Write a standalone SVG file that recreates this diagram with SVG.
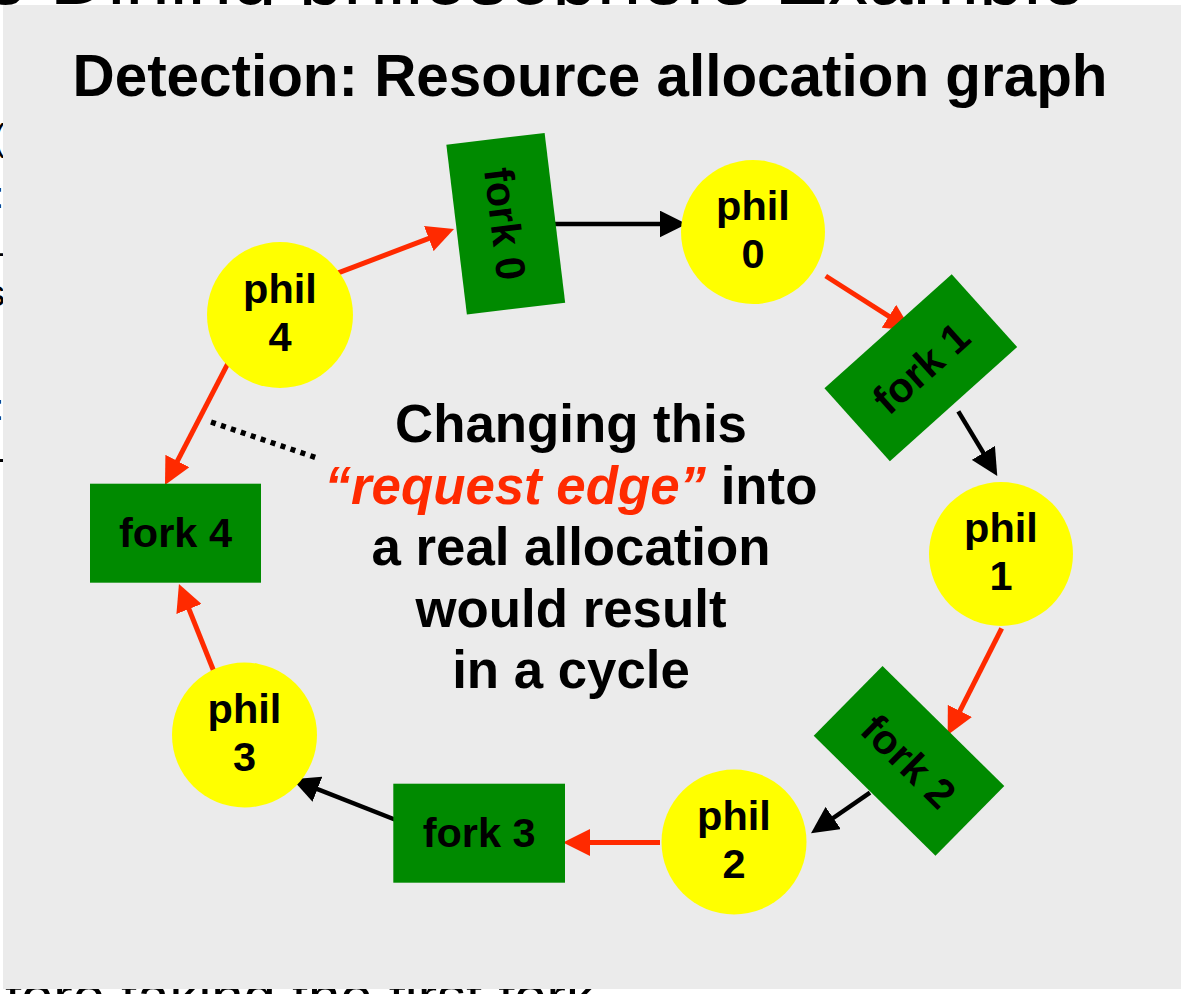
<svg xmlns="http://www.w3.org/2000/svg" width="1181" height="994" viewBox="0 0 1181 994">
  <style>
    .bg-text { font-family: "Liberation Sans", Arial, sans-serif; fill: #000; }
    .title { font-family: "Liberation Sans", Arial, sans-serif; font-weight: bold; font-size: 58.4px; fill: #000; }
    .note { font-family: "Liberation Sans", Arial, sans-serif; font-weight: bold; font-size: 52.8px; fill: #000; }
    .note .req { fill: #FF2A00; font-style: italic; }
    .phil circle { fill: #FFFF00; }
    .fork rect { fill: #008A00; }
    .label { font-family: "Liberation Sans", Arial, sans-serif; font-weight: bold; font-size: 41.5px; fill: #000; text-anchor: middle; }
    .req-edge { stroke: #FF2A00; stroke-width: 5; fill: none; marker-end: url(#head-red); }
    .alloc-edge { stroke: #000; stroke-width: 4.5; fill: none; marker-end: url(#head-black); }
    .pointer { stroke: #000; stroke-width: 5.5; stroke-dasharray: 5 5.5; fill: none; }
  </style>
  <defs>
    <marker id="head-red" viewBox="0 0 27 27" markerUnits="userSpaceOnUse" markerWidth="27" markerHeight="27" refX="15" refY="13.5" orient="auto">
      <path d="M0,0 L27,13.5 L0,27 Z" fill="#FF2A00"/>
    </marker>
    <marker id="head-black" viewBox="0 0 27 27" markerUnits="userSpaceOnUse" markerWidth="27" markerHeight="27" refX="15" refY="13.5" orient="auto">
      <path d="M0,0 L27,13.5 L0,27 Z" fill="#000"/>
    </marker>
  </defs>

  <!-- underlying slide, mostly covered by the panel -->
  <rect x="0" y="0" width="1181" height="994" fill="#FFFFFF"/>
  <g id="slide-behind" class="bg-text">
    <text x="-17" y="4" font-size="80">e Dining philosophers Example</text>
    <text x="5" y="1016" font-size="58">fore taking the first fork</text>
    <g font-size="36" text-anchor="end">
      <text x="5" y="150">(</text>
      <text x="4" y="208">:</text>
      <text x="5" y="256">1</text>
      <text x="5" y="306">s</text>
      <text x="4" y="420">:</text>
      <text x="5" y="470">-</text>
    </g>
  </g>

  <!-- panel -->
  <rect x="3" y="5" width="1178" height="984" fill="#EBEBEB"/>

  <text class="title" x="590" y="96" text-anchor="middle">Detection: Resource allocation graph</text>

  <!-- connectors -->
  <g id="connectors">
    <line class="req-edge" x1="334.3" y1="274.3" x2="442.8" y2="233.2"/>
    <line class="alloc-edge" x1="548" y1="224" x2="674.7" y2="224"/>
    <line class="req-edge" x1="825.7" y1="276" x2="901.6" y2="324.3"/>
    <line class="alloc-edge" x1="958.3" y1="411.3" x2="991.1" y2="465.7"/>
    <line class="req-edge" x1="1001.7" y1="628.3" x2="953.1" y2="724.3"/>
    <line class="alloc-edge" x1="870" y1="792.7" x2="820.9" y2="826.5"/>
    <line class="req-edge" x1="660" y1="842.5" x2="575" y2="842.5"/>
    <line class="alloc-edge" x1="396" y1="820" x2="303.5" y2="783.7"/>
    <line class="req-edge" x1="213.3" y1="670" x2="183.4" y2="595.1"/>
    <line class="req-edge" x1="230" y1="359.3" x2="170.5" y2="474.3"/>
    <line class="pointer" x1="211" y1="422" x2="317" y2="458"/>
  </g>

  <!-- philosophers -->
  <g id="phil0" class="phil">
    <circle cx="753" cy="232" r="72"/>
    <text class="label" x="753" y="220">phil</text>
    <text class="label" x="753" y="268">0</text>
  </g>
  <g id="phil1" class="phil">
    <circle cx="1001" cy="554" r="72"/>
    <text class="label" x="1001" y="542">phil</text>
    <text class="label" x="1001" y="590">1</text>
  </g>
  <g id="phil2" class="phil">
    <circle cx="734" cy="842" r="72.5"/>
    <text class="label" x="734" y="830">phil</text>
    <text class="label" x="734" y="878">2</text>
  </g>
  <g id="phil3" class="phil">
    <circle cx="244.5" cy="735" r="72.5"/>
    <text class="label" x="244.5" y="723">phil</text>
    <text class="label" x="244.5" y="771">3</text>
  </g>
  <g id="phil4" class="phil">
    <circle cx="280" cy="315" r="73"/>
    <text class="label" x="280" y="303">phil</text>
    <text class="label" x="280" y="351">4</text>
  </g>

  <!-- forks -->
  <g id="fork0" class="fork" transform="translate(505.75,223.75) rotate(-6.9)">
    <rect x="-49.5" y="-85.5" width="99" height="171"/>
    <text class="label" transform="rotate(90)" x="0" y="15">fork 0</text>
  </g>
  <g id="fork1" class="fork" transform="translate(920.8,367.7) rotate(-41.9)">
    <rect x="-85.5" y="-49" width="171" height="98"/>
    <text class="label" x="0" y="15">fork 1</text>
  </g>
  <g id="fork2" class="fork" transform="translate(909,760.9) rotate(44.6)">
    <rect x="-85.5" y="-49" width="171" height="98"/>
    <text class="label" x="0" y="15">fork 2</text>
  </g>
  <g id="fork3" class="fork">
    <rect x="393.3" y="783.7" width="171.7" height="99"/>
    <text class="label" x="479.2" y="847">fork 3</text>
  </g>
  <g id="fork4" class="fork">
    <rect x="90" y="483.7" width="171" height="99"/>
    <text class="label" x="175.5" y="547">fork 4</text>
  </g>

  <!-- explanation -->
  <g id="note">
    <text class="note" x="571" y="442" text-anchor="middle">Changing this</text>
    <text class="note" x="571" y="503.5" text-anchor="middle"><tspan class="req">“request edge”</tspan> into</text>
    <text class="note" x="571" y="565" text-anchor="middle">a real allocation</text>
    <text class="note" x="571" y="626.5" text-anchor="middle">would result</text>
    <text class="note" x="571" y="687.5" text-anchor="middle">in a cycle</text>
  </g>
</svg>
